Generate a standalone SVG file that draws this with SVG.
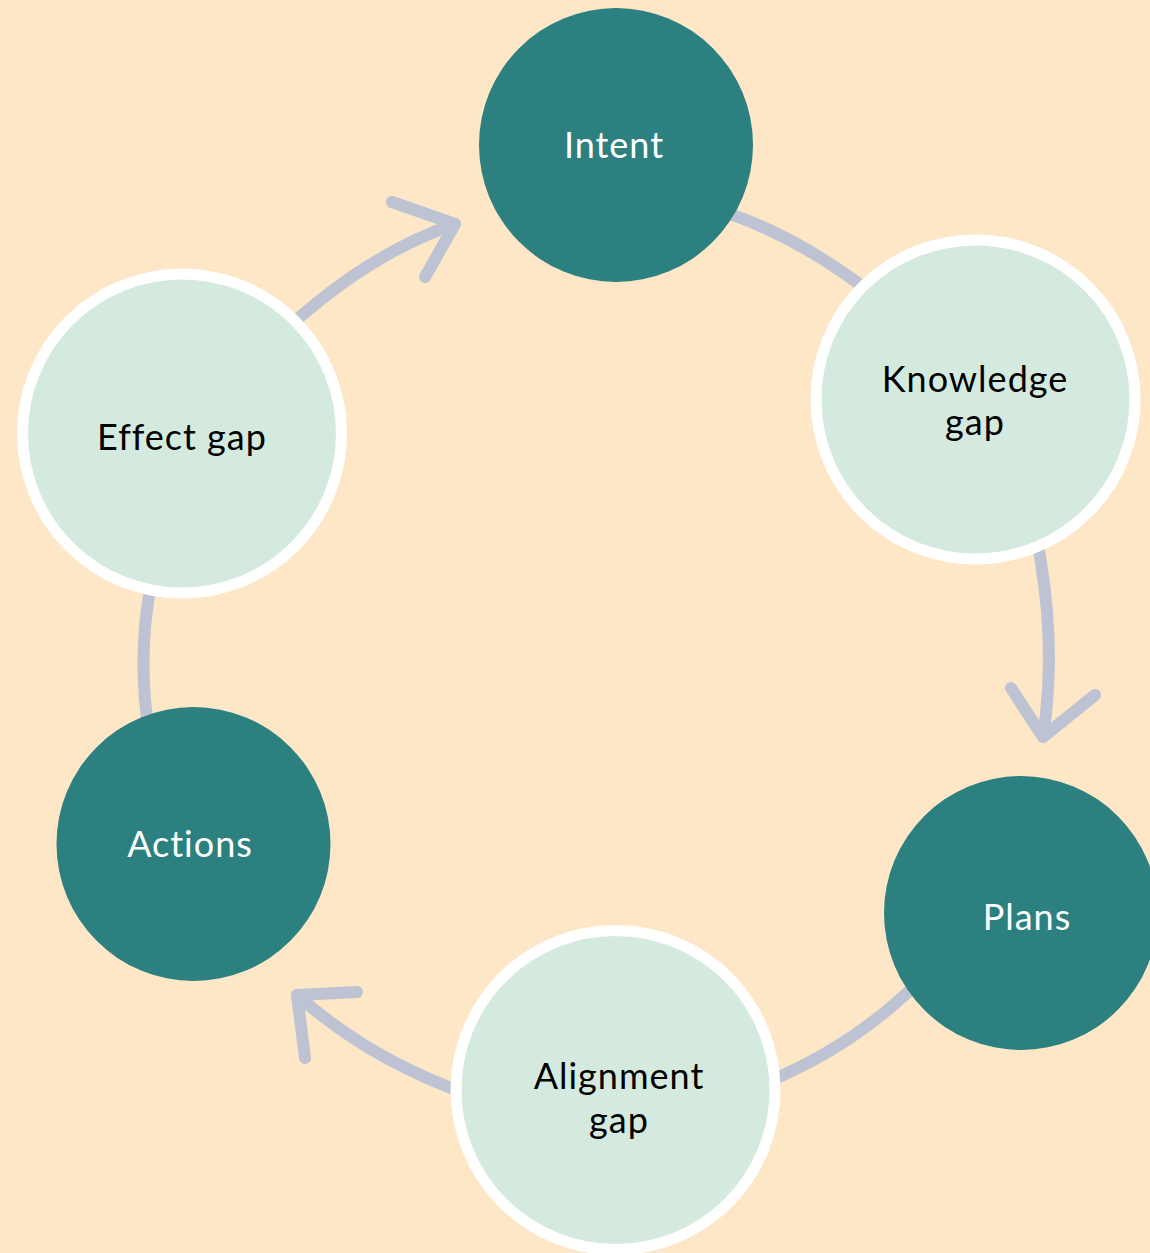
<svg xmlns="http://www.w3.org/2000/svg" width="1150" height="1253" viewBox="0 0 1150 1253">
  <style>
    .flow { fill: none; stroke: #BDC3D3; stroke-width: 12; stroke-linecap: round; stroke-linejoin: round; }
    .step { fill: #2C807F; }
    .gap { fill: #D5EADF; stroke: #FFFFFF; stroke-width: 11; }
    .lbl { font-family: Lato, "Noto Sans", "Liberation Sans", sans-serif; font-size: 36px; letter-spacing: 1px; text-anchor: middle; }
    .light { fill: #FFFFFF; }
    .dark { fill: #000000; }
  </style>
  <rect width="1150" height="1253" fill="#FDE7C7"/>

  <!-- connectors: curved arcs around the cycle, drawn beneath the nodes -->
  <g id="connectors">
    <path class="flow" d="M700,205 Q790,228 880,300"/>
    <path class="flow" d="M1035,530 Q1058,640 1043,737"/>
    <path class="flow" d="M1011,688 L1043,737 L1095,695"/>
    <path class="flow" d="M930,970 Q860,1045 760,1085"/>
    <path class="flow" d="M470,1095 Q370,1060 297,995"/>
    <path class="flow" d="M357,992 L297,995 L305,1058"/>
    <path class="flow" d="M152,580 Q136,655 150,740"/>
    <path class="flow" d="M280,335 Q365,255 455,224"/>
    <path class="flow" d="M392,202 L455,224 L425,277"/>
  </g>

  <g id="intent">
    <circle class="step" cx="616" cy="145" r="137"/>
    <text class="lbl light" x="614" y="158">Intent</text>
  </g>

  <g id="knowledge-gap">
    <circle class="gap" cx="975.5" cy="399.5" r="159.5"/>
    <text class="lbl dark" x="975" y="392">Knowledge</text>
    <text class="lbl dark" x="975" y="435">gap</text>
  </g>

  <g id="plans">
    <circle class="step" cx="1021" cy="913" r="137"/>
    <text class="lbl light" x="1027" y="930">Plans</text>
  </g>

  <g id="alignment-gap">
    <circle class="gap" cx="615.5" cy="1090" r="159.5"/>
    <text class="lbl dark" x="619" y="1089">Alignment</text>
    <text class="lbl dark" x="619" y="1133">gap</text>
  </g>

  <g id="actions">
    <circle class="step" cx="193.5" cy="844" r="137"/>
    <text class="lbl light" x="190" y="857">Actions</text>
  </g>

  <g id="effect-gap">
    <circle class="gap" cx="182" cy="433.5" r="159.5"/>
    <text class="lbl dark" x="182" y="450">Effect gap</text>
  </g>
</svg>
